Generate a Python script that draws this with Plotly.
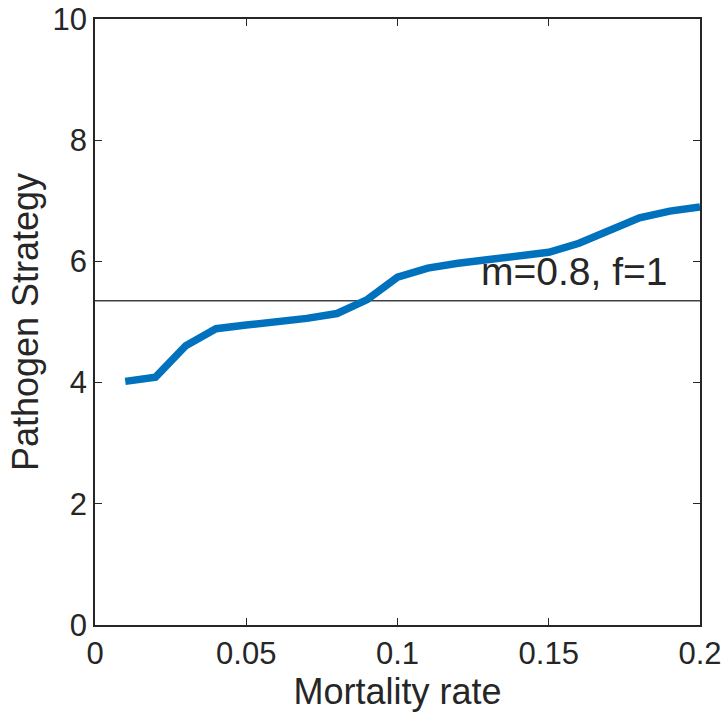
import plotly.graph_objects as go

mortality = [0.01, 0.02, 0.03, 0.04, 0.05, 0.06, 0.07, 0.08, 0.09, 0.10,
             0.11, 0.12, 0.13, 0.14, 0.15, 0.16, 0.17, 0.18, 0.19, 0.20]
strategy = [4.02, 4.09, 4.61, 4.89, 4.95, 5.00, 5.06, 5.14, 5.37, 5.74,
            5.89, 5.97, 6.03, 6.07, 6.15, 6.30, 6.52, 6.72, 6.83, 6.90]
ref_level = 5.35
x_ticks = [0, 0.05, 0.1, 0.15, 0.2]
x_ticklabels = ["0", "0.05", "0.1", "0.15", "0.2"]
y_ticks = [0, 2, 4, 6, 8, 10]
label_text = "m=0.8, f=1"

FONT = "Liberation Sans, Arial, Helvetica, sans-serif"
INK = "#262626"

fig = go.Figure()
fig.add_trace(go.Scatter(
    x=[0, 0.2], y=[ref_level, ref_level], mode="lines",
    line=dict(color="#404040", width=1.5), showlegend=False, hoverinfo="skip"))
fig.add_trace(go.Scatter(
    x=mortality, y=strategy, mode="lines",
    line=dict(color="#0072BD", width=7.5), showlegend=False))

fig.add_annotation(x=0.127, y=5.84, xref="x", yref="y", text=label_text,
                   showarrow=False, xanchor="left", yanchor="middle",
                   font=dict(family=FONT, size=39, color=INK))

axis_common = dict(showline=True, linecolor=INK, linewidth=1.5, mirror="ticks",
                   ticks="inside", ticklen=7, tickcolor=INK, tickwidth=1.2,
                   showgrid=False, zeroline=False, automargin=False,
                   tickfont=dict(family=FONT, size=31, color=INK))

fig.update_layout(
    width=726, height=717,
    margin=dict(l=95, r=26, t=19, b=92),
    paper_bgcolor="white", plot_bgcolor="white",
    xaxis=dict(range=[0, 0.2], tickvals=x_ticks, ticktext=x_ticklabels,
               title=dict(text="Mortality rate", standoff=7,
                          font=dict(family=FONT, size=36, color=INK)),
               **axis_common),
    yaxis=dict(range=[0, 10], tickvals=y_ticks,
               title=dict(text="Pathogen Strategy", standoff=3,
                          font=dict(family=FONT, size=36, color=INK)),
               **axis_common),
)

fig.write_html("out.html")
